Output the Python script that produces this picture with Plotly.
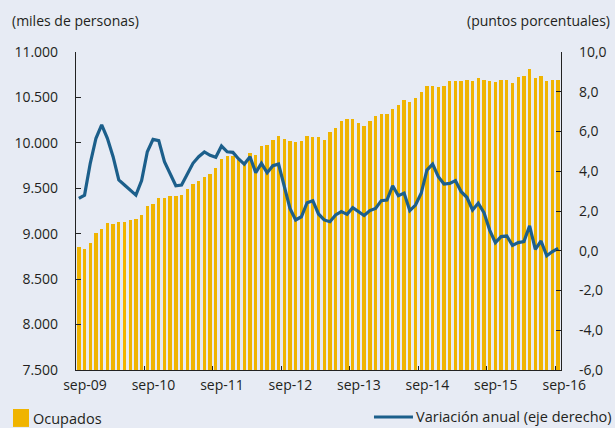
import plotly.graph_objects as go

# Monthly series, sep-2009 .. sep-2016
month_names = ["ene", "feb", "mar", "abr", "may", "jun", "jul", "ago", "sep", "oct", "nov", "dic"]
months = [f"{month_names[(i + 8) % 12]}-{9 + (i + 8) // 12:02d}" for i in range(85)]

ocupados = [
    8854, 8828, 8898, 9004, 9056, 9114, 9110, 9125, 9125, 9151, 9166, 9210,
    9305, 9327, 9393, 9393, 9411, 9411, 9422, 9488, 9547, 9584, 9628, 9654,
    9723, 9819, 9855, 9855, 9811, 9793, 9885, 9866, 9965, 9976, 10031, 10072,
    10046, 10020, 10006, 10020, 10072, 10061, 10061, 10031, 10116, 10167, 10237, 10263,
    10259, 10222, 10182, 10237, 10292, 10318, 10318, 10373, 10413, 10468, 10454, 10494,
    10560, 10626, 10626, 10615, 10626, 10681, 10681, 10681, 10692, 10681, 10710, 10692,
    10681, 10666, 10692, 10692, 10655, 10721, 10736, 10817, 10710, 10736, 10681, 10695,
    10695,
]

variacion = [
    2.64, 2.80, 4.40, 5.66, 6.33, 5.66, 4.73, 3.56, 3.31, 3.06, 2.80, 3.53,
    4.98, 5.60, 5.54, 4.48, 3.89, 3.27, 3.31, 3.85, 4.40, 4.73, 4.97, 4.80,
    4.70, 5.27, 4.98, 4.95, 4.62, 4.36, 4.73, 3.93, 4.40, 3.93, 4.28, 4.36,
    3.22, 2.13, 1.55, 1.71, 2.42, 2.52, 1.85, 1.55, 1.46, 1.80, 1.97, 1.83,
    2.17, 1.97, 1.77, 2.02, 2.13, 2.52, 2.55, 3.27, 2.77, 2.90, 2.02, 2.30,
    2.89, 4.06, 4.36, 3.73, 3.36, 3.39, 3.53, 2.97, 2.69, 2.05, 2.39, 1.92,
    1.04, 0.41, 0.71, 0.74, 0.27, 0.41, 0.46, 1.25, 0.07, 0.49, -0.25, -0.04,
    0.12,
]

x_labels = ["sep-09", "sep-10", "sep-11", "sep-12", "sep-13", "sep-14", "sep-15", "sep-16"]
left_ticks = [7500, 8000, 8500, 9000, 9500, 10000, 10500, 11000]
right_ticks = [-6, -4, -2, 0, 2, 4, 6, 8, 10]
right_text = ["-6,0", "-4,0", "-2,0", "0,0", "2,0", "4,0", "6,0", "8,0", "10,0"]

SERIES_BARS = "Ocupados"
SERIES_LINE = "Variación anual (eje derecho)"

idx = list(range(len(ocupados)))
sep_idx = [i for i, m in enumerate(months) if m.startswith("sep")]

BG = "#e7ebf4"
YELLOW = "#f0b400"
BLUE = "#1c5f8b"
FONT = "Open Sans"
TXT = "#231f20"
AXIS = "#222222"

fig = go.Figure()
fig.add_trace(go.Bar(
    x=idx, y=ocupados, name=SERIES_BARS, marker=dict(color=YELLOW, line=dict(width=0)),
    width=0.58, showlegend=False,
))
fig.add_trace(go.Scatter(
    x=idx, y=variacion, name=SERIES_LINE, yaxis="y2",
    mode="lines", line=dict(color=BLUE, width=3.2), showlegend=False,
))

# Legend keys drawn below the plot: bar swatch bottom-left, line sample bottom-right
legend_shapes = [
    dict(type="rect", xref="paper", yref="paper", x0=-0.1299, x1=-0.0969,
         y0=-0.179, y1=-0.1226, fillcolor=YELLOW, line=dict(width=0)),
    dict(type="line", xref="paper", yref="paper", x0=0.6144, x1=0.6948,
         y0=-0.1478, y1=-0.1478, line=dict(color=BLUE, width=3)),
]
legend_texts = [
    dict(text=SERIES_BARS, xref="paper", yref="paper", x=-0.0928, y=-0.1525,
         xanchor="left", yanchor="middle", showarrow=False, font=dict(size=14.5)),
    dict(text=SERIES_LINE, xref="paper", yref="paper", x=0.697, y=-0.1447,
         xanchor="left", yanchor="middle", showarrow=False, font=dict(size=14.5)),
]
axis_titles = [
    dict(text="(miles de personas)", xref="paper", yref="paper", x=-0.136, y=1.10,
         xanchor="left", yanchor="middle", showarrow=False, font=dict(size=14)),
    dict(text="(puntos porcentuales)", xref="paper", yref="paper", x=1.106, y=1.10,
         xanchor="right", yanchor="middle", showarrow=False, font=dict(size=14)),
]

fig.update_layout(
    width=615, height=428,
    margin=dict(l=76, r=54, t=52, b=58, autoexpand=False),
    paper_bgcolor=BG, plot_bgcolor=BG,
    font=dict(family=FONT, size=14, color=TXT),
    separators=",.",
    bargap=0,
    showlegend=False,
    xaxis=dict(
        range=[-0.5, 84.5], tickvals=[i - 0.5 for i in sep_idx], ticktext=x_labels,
        ticks="inside", ticklen=4, tickcolor=AXIS, showline=True, linecolor=AXIS,
        linewidth=1.2, showgrid=False, zeroline=False, ticklabelshift=9,
        ticklabelstandoff=2, tickfont=dict(size=14),
    ),
    yaxis=dict(
        range=[7500, 11000], tickvals=left_ticks, tickformat=",d", ticks="inside",
        ticklen=5, tickcolor=AXIS, showline=True, linecolor=AXIS, linewidth=1.2,
        showgrid=False, zeroline=False, ticklabelstandoff=14,
    ),
    yaxis2=dict(
        range=[-6, 10], tickvals=right_ticks, ticktext=right_text, overlaying="y",
        side="right", ticks="inside", ticklen=5, tickcolor=AXIS, showline=True,
        linecolor=AXIS, linewidth=1.2, showgrid=False, zeroline=False,
        ticklabelstandoff=14,
    ),
    shapes=legend_shapes,
    annotations=axis_titles + legend_texts,
)

fig.write_html("out.html")
